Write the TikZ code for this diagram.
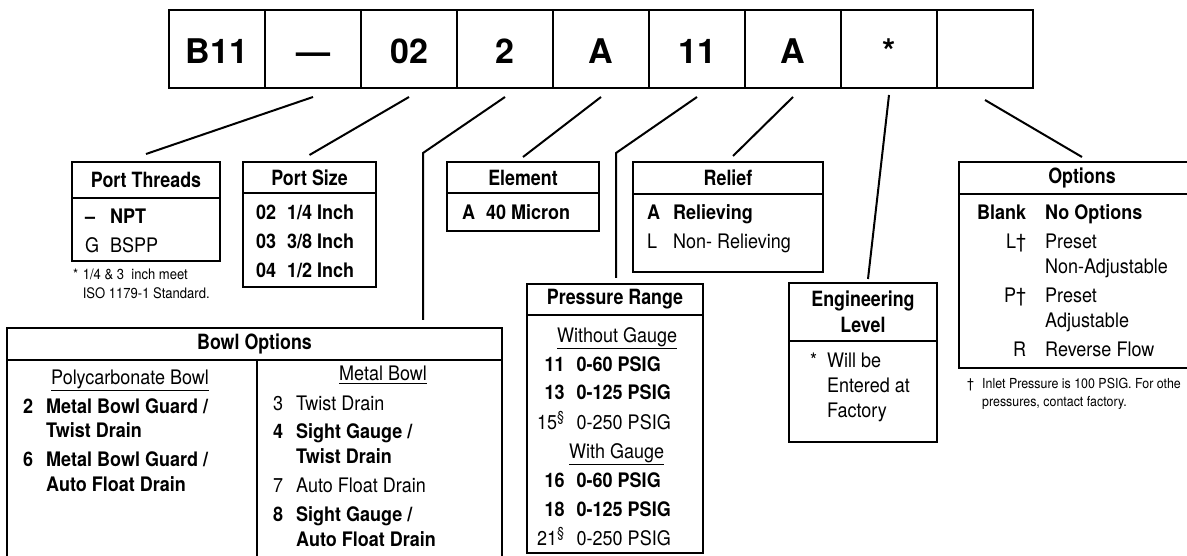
\documentclass[tikz,border=0pt]{standalone}
\usepackage{fontspec}
\setmainfont{TeX Gyre Heros}[FakeStretch=0.9]
\newfontfamily\hdrfont{TeX Gyre Heros}[FakeStretch=0.85]
\newfontfamily\cellfont{TeX Gyre Heros}
\usepackage{array}

\tikzset{
  cell/.style={draw, line width=2pt, minimum width=96pt, minimum height=78pt, inner sep=0pt, outer sep=0pt, text height=29pt, font=\cellfont\fontsize{34}{38}\selectfont\bfseries},
  hdr/.style={draw, line width=2.5pt, anchor=north west, inner sep=0pt, outer sep=0pt, align=center, font=\hdrfont\fontsize{21}{26.5}\selectfont\bfseries},
  bod/.style={draw, line width=2.5pt, anchor=north west, inner sep=0pt, outer sep=0pt},
  txt/.style={anchor=base west, inner sep=0pt, font=\fontsize{20}{25}\selectfont},
  note/.style={anchor=base west, inner sep=0pt, font=\fontsize{14.5}{18}\selectfont},
  lead/.style={line width=2pt}
}

\begin{document}
\begin{tikzpicture}[x=1pt, y=-1pt]
    \useasboundingbox (0,0) rectangle (1187,556);
    \fill[white] (0,0) rectangle (1187,556);
    \clip (0,0) rectangle (1187,556);

    % Code cells
    \node[cell] (c1) at (217,49) {B11};
    \node[cell] (c2) at (313,49) {\textemdash};
    \node[cell] (c3) at (409,49) {02};
    \node[cell] (c4) at (505,49) {2};
    \node[cell] (c5) at (601,49) {A};
    \node[cell] (c6) at (697,49) {11};
    \node[cell] (c7) at (793,49) {A};
    \node[cell] (c8) at (889,49) {*};
    \node[cell] (c9) at (985,49) {};

    % Port threads
    \node[hdr, minimum width=148pt, minimum height=36pt] (thrH) at (72,162) {Port Threads};
    \node[bod, minimum width=148pt, minimum height=63pt] (thrB) at (thrH.south west) {};
    \node[txt] (thrT) at (85,224) {\begin{tabular}[t]{@{}p{25pt}@{}l@{}}
        \textbf{--} & \textbf{NPT}\\[4pt]
        G & BSPP
      \end{tabular}};
    \node[note] (thrN) at (73,280) {\begin{tabular}[t]{@{}l@{\hspace{4.5pt}}l@{}}
        * & 1/4 \& 3\ \ inch meet\\
          & ISO 1179-1 Standard.
      \end{tabular}};

    % Port size
    \node[hdr, minimum width=133pt, minimum height=31pt] (sizH) at (243,162) {Port Size};
    \node[bod, minimum width=133pt, minimum height=94pt] (sizB) at (sizH.south west) {};
    \node[txt] (sizT) at (256,220) {\bfseries\begin{tabular}[t]{@{}p{31pt}@{}l@{}}
        02 & 1/4 Inch\\[4pt]
        03 & 3/8 Inch\\[4pt]
        04 & 1/2 Inch
      \end{tabular}};

    % Bowl options
    \node[hdr, minimum width=495pt, minimum height=32pt] (bowlH) at (7,328) {Bowl Options};
    \node[bod, minimum width=495pt, minimum height=260pt] (bowlB) at (bowlH.south west) {};
    \coordinate (bowlmid) at (257,360);
    \draw[line width=2.5pt] (bowlmid) -- (bowlmid |- bowlB.south);
    \node[txt] (polyT) at (23,384) {\begin{tabular}[t]{@{}p{23pt}@{}l@{}}
        \multicolumn{2}{@{}l@{}}{\hspace{28pt}\underline{Polycarbonate Bowl}}\\[4pt]
        \textbf{2} & \textbf{Metal Bowl Guard /}\\
                   & \textbf{Twist Drain}\\[4pt]
        \textbf{6} & \textbf{Metal Bowl Guard /}\\
                   & \textbf{Auto Float Drain}
      \end{tabular}};
    \node[txt] (metT) at (273,381) {\begin{tabular}[t]{@{}p{23pt}@{}l@{}}
        \multicolumn{2}{@{}l@{}}{\hspace{66pt}\underline{Metal Bowl}}\\[4pt]
        3 & Twist Drain\\[4pt]
        \textbf{4} & \textbf{Sight Gauge /}\\
                   & \textbf{Twist Drain}\\[4pt]
        7 & Auto Float Drain\\[4pt]
        \textbf{8} & \textbf{Sight Gauge /}\\
                   & \textbf{Auto Float Drain}
      \end{tabular}};

    % Element
    \node[hdr, minimum width=152pt, minimum height=31pt] (elmH) at (447,162) {Element};
    \node[bod, minimum width=152pt, minimum height=38pt] (elmB) at (elmH.south west) {};
    \node[txt] (elmT) at (462,220) {\bfseries\begin{tabular}[t]{@{}p{24pt}@{}l@{}}
        A & 40 Micron
      \end{tabular}};

    % Pressure range
    \node[hdr, minimum width=176pt, minimum height=31pt] (presH) at (527,284) {Pressure Range};
    \node[bod, minimum width=176pt, minimum height=238pt] (presB) at (presH.south west) {};
    \node[txt] (presT) at (537,342) {\begin{tabular}[t]{@{}r@{\hspace{12pt}}l@{}}
        \multicolumn{2}{@{}l@{}}{\hspace{20pt}\underline{Without Gauge}}\\[4pt]
        \textbf{11} & \textbf{0-60 PSIG}\\[4pt]
        \textbf{13} & \textbf{0-125 PSIG}\\[4pt]
        15\textsuperscript{\S} & 0-250 PSIG\\[4pt]
        \multicolumn{2}{@{}l@{}}{\hspace{32pt}\underline{With Gauge}}\\[4pt]
        \textbf{16} & \textbf{0-60 PSIG}\\[4pt]
        \textbf{18} & \textbf{0-125 PSIG}\\[4pt]
        21\textsuperscript{\S} & 0-250 PSIG
      \end{tabular}};

    % Relief
    \node[hdr, minimum width=190pt, minimum height=32pt] (relH) at (633,162) {Relief};
    \node[bod, minimum width=190pt, minimum height=78pt] (relB) at (relH.south west) {};
    \node[txt] (relT) at (647,220) {\begin{tabular}[t]{@{}p{26pt}@{}l@{}}
        \textbf{A} & \textbf{Relieving}\\[4pt]
        L & Non- Relieving
      \end{tabular}};

    % Engineering level
    \node[hdr, minimum width=148pt, minimum height=58pt] (engH) at (789,283) {Engineering\\Level};
    \node[bod, minimum width=148pt, minimum height=101pt] (engB) at (engH.south west) {};
    \node[txt] (engT) at (810,367) {\begin{tabular}[t]{@{}p{17pt}@{}l@{}}
        * & Will be\\
          & Entered at\\
          & Factory
      \end{tabular}};

    % Options
    \node[hdr, minimum width=246pt, minimum height=32pt] (optH) at (959,162) {Options};
    \node[bod, minimum width=246pt, minimum height=174pt] (optB) at (optH.south west) {};
    \node[txt] (optT) at (977,220) {\begin{tabular}[t]{@{}r@{\hspace{19pt}}l@{}}
        \textbf{Blank} & \textbf{No Options}\\[4pt]
        L\textdagger & Preset\\
                     & Non-Adjustable\\[4pt]
        P\textdagger & Preset\\
                     & Adjustable\\[4pt]
        R & Reverse Flow
      \end{tabular}};
    \node[note, font=\fontsize{13.8}{18}\selectfont] (optN) at (967,388) {\begin{tabular}[t]{@{}p{15pt}@{}l@{}}
        \textdagger & Inlet Pressure is 100 PSIG. For othe\\
                    & pressures, contact factory.
      \end{tabular}};

    % Leader lines
    \coordinate (bowlbend) at (423,153);
    \coordinate (presbend) at (616,153);
    \draw[lead] ([yshift=-9pt]c2.south) -- ([yshift=8pt]thrH.north);
    \draw[lead] ([yshift=-9pt]c3.south) -- ([yshift=7pt]sizH.north);
    \draw[lead] ([yshift=-9pt]c4.south) -- (bowlbend) -- ([yshift=8pt]bowlH.north -| bowlbend);
    \draw[lead] ([yshift=-9pt]c5.south) -- ([yshift=5pt]elmH.north);
    \draw[lead] ([yshift=-9pt]c6.south) -- (presbend) -- ([yshift=6pt]presH.north -| presbend);
    \draw[lead] ([yshift=-9pt]c7.south) -- ([xshift=5pt,yshift=6pt]relH.north);
    \draw[lead] ([yshift=-7pt]c8.south) -- ([xshift=5pt,yshift=4pt]engH.north);
    \draw[lead] ([yshift=-12pt]c9.south) -- ([yshift=5pt]optH.north);
\end{tikzpicture}
\end{document}
